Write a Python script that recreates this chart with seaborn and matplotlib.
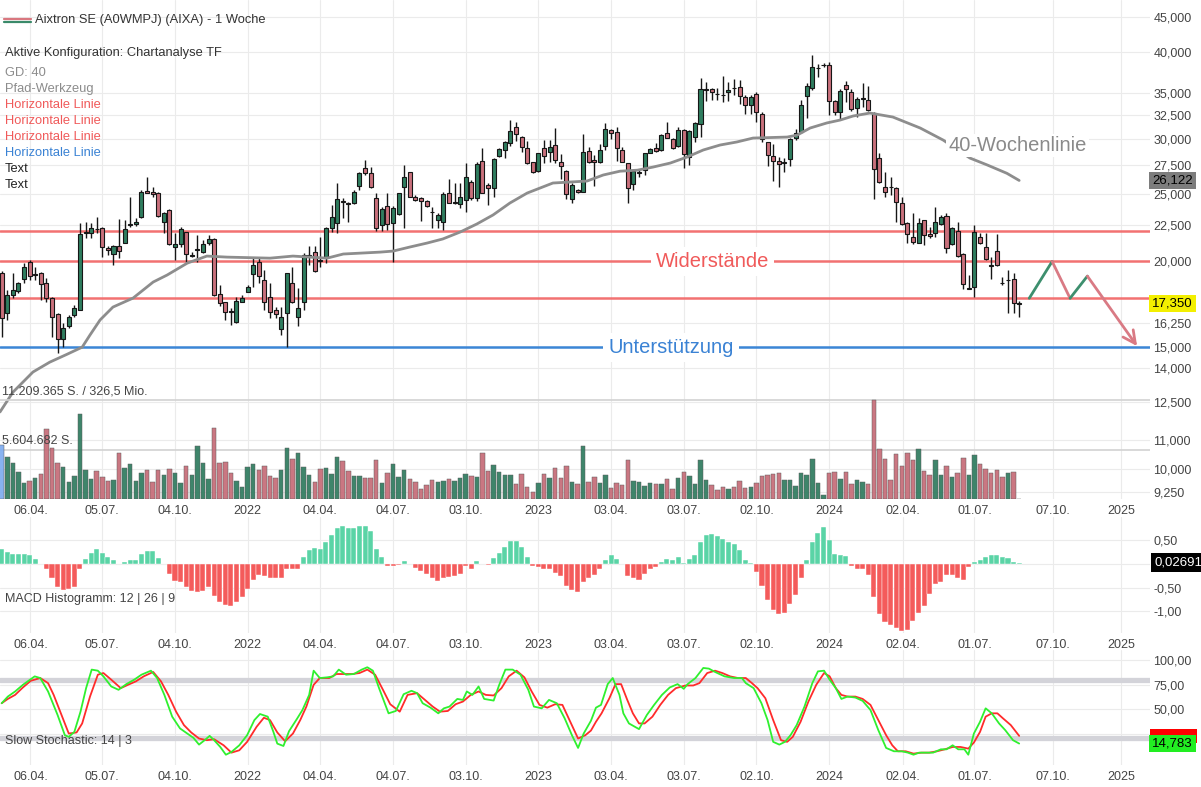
import numpy as np
import pandas as pd
import matplotlib
matplotlib.use("Agg")
import matplotlib.pyplot as plt
import matplotlib.transforms as mtransforms
from matplotlib.lines import Line2D
from matplotlib.patches import Rectangle
from matplotlib.ticker import NullLocator
import seaborn as sns

sns.set_style("white")
plt.rcParams["font.family"] = ["Liberation Sans", "DejaVu Sans"]

# ---------------- data ----------------
start_week = "2021-03-01"   # first weekly candle (Monday)

open_ = [19.18,16.80,17.84,18.08,18.82,19.91,19.10,19.18,18.57,17.66,
         16.75,15.41,16.09,16.69,16.97,21.95,21.93,22.25,22.30,20.86,
         20.45,21.00,21.21,22.55,22.60,23.13,25.22,25.14,25.05,22.75,
         23.68,20.93,21.14,22.00,20.31,20.72,20.58,21.21,21.50,17.90,
         17.43,16.90,16.31,17.43,18.02,19.13,19.91,18.75,17.72,16.97,
         15.93,16.80,18.57,16.58,17.43,20.31,20.58,20.04,20.26,22.27,
         22.70,24.36,24.20,24.21,25.66,27.19,26.80,24.61,22.52,24.01,
         22.70,23.34,25.53,26.89,24.75,24.61,24.42,23.50,22.90,22.77,
         25.07,24.21,24.15,24.48,26.01,24.61,27.87,25.70,25.44,28.33,
         28.91,29.56,31.17,30.15,29.10,27.77,26.94,29.10,28.72,29.39,
         27.77,26.94,24.56,25.30,25.14,28.81,27.96,27.77,29.29,30.89,
         30.68,28.91,27.68,25.81,26.75,27.03,28.62,29.10,28.91,30.58,
         29.98,29.29,30.89,28.24,30.18,31.52,35.30,35.42,34.83,34.71,
         35.07,35.53,35.65,34.48,33.58,34.83,32.58,29.69,28.33,27.87,
         27.68,28.05,30.08,30.68,34.59,35.53,37.97,38.36,38.36,34.03,
         32.80,35.89,35.07,33.24,34.30,34.14,32.69,28.14,25.55,25.60,
         25.47,24.23,22.67,21.64,21.21,22.90,21.86,21.93,22.60,23.21,
         21.14,22.08,20.45,18.20,18.32,21.64,20.93,19.71,20.65,18.57,
         18.75,18.82,17.32]
high = [19.32,18.14,19.18,18.63,19.84,20.04,19.58,19.26,18.88,17.72,
        16.80,16.26,16.69,17.26,22.67,22.75,22.67,23.13,22.37,21.00,
        21.07,22.98,22.90,24.72,23.05,25.30,26.42,25.55,25.14,23.52,
        23.75,21.93,22.37,22.00,20.58,21.79,21.43,21.79,21.55,18.45,
        17.43,17.08,17.72,17.84,18.45,20.24,20.24,19.40,18.57,17.14,
        17.14,19.18,19.58,18.26,20.52,21.00,21.02,21.66,22.40,24.07,
        25.92,24.62,24.34,25.30,26.89,27.96,27.28,25.07,23.93,25.07,
        23.99,25.07,27.49,26.89,24.89,24.75,24.48,23.93,23.42,25.16,
        26.22,25.86,25.86,27.65,26.16,27.80,29.07,25.92,28.12,29.07,
        29.79,31.94,31.70,30.28,29.79,27.77,28.62,29.88,29.88,31.10,
        28.52,27.03,25.90,25.38,30.48,29.19,28.43,29.49,31.63,30.99,
        31.20,29.19,27.68,27.03,27.03,28.62,29.10,29.59,30.48,31.73,
        30.08,31.20,30.99,30.89,31.73,36.73,36.25,35.53,35.53,36.97,
        36.25,36.61,36.49,34.71,34.71,35.07,32.80,29.69,29.49,28.24,
        28.14,30.08,30.99,34.14,36.13,39.65,38.49,38.62,38.75,34.14,
        35.42,36.37,35.42,34.48,36.13,35.77,32.80,28.62,26.85,26.42,
        25.55,24.72,22.75,23.44,23.05,22.90,22.37,23.91,23.29,23.44,
        22.37,22.75,20.52,19.07,22.52,21.93,21.93,20.24,21.86,18.94,
        19.40,19.18,17.49]
low = [15.51,16.42,17.66,17.96,18.57,18.75,18.75,17.55,17.43,15.51,
       14.71,15.00,15.99,16.58,16.97,21.57,21.57,21.93,20.24,20.38,
       19.71,20.17,21.21,22.37,22.45,23.05,25.05,24.72,23.13,21.93,
       21.07,20.04,20.93,19.91,20.24,19.91,20.52,21.07,17.80,17.20,
       16.42,16.15,16.26,17.43,18.02,18.32,18.57,16.97,16.53,16.53,
       15.62,15.00,17.37,16.09,16.97,19.71,19.28,19.60,19.82,22.02,
       21.95,23.03,22.77,24.15,25.30,26.60,25.44,22.10,22.10,22.15,
       19.89,23.29,22.27,24.70,24.42,22.85,23.93,22.32,22.27,22.15,
       24.21,24.15,23.81,23.48,24.48,24.42,25.03,24.07,24.75,28.21,
       28.12,29.29,29.81,28.72,27.58,26.75,26.85,27.68,27.77,27.68,
       26.25,24.56,24.23,25.05,25.14,27.68,25.64,27.68,28.91,29.98,
       27.87,27.77,24.23,25.30,26.42,26.60,28.62,28.72,28.81,30.08,
       29.00,29.19,27.22,27.49,29.69,30.18,34.01,34.14,34.14,33.92,
       34.01,34.71,33.69,32.58,32.58,31.73,29.69,27.40,26.07,25.55,
       26.85,27.40,29.88,30.58,32.15,35.30,36.85,38.10,32.48,32.48,
       31.94,33.92,32.91,32.26,33.35,32.91,24.56,25.90,24.72,24.89,
       22.75,22.52,21.21,21.14,21.21,21.07,21.57,21.64,22.52,20.52,
       21.07,20.24,18.20,18.20,17.72,21.14,20.04,18.82,19.64,18.45,
       16.80,16.80,16.58]
close = [16.53,17.84,18.14,18.57,19.58,19.00,19.13,18.51,17.66,16.58,
         15.41,15.99,16.58,17.08,21.86,22.00,22.30,22.22,20.93,20.72,
         21.00,20.65,22.22,22.60,22.75,25.14,25.05,24.97,23.21,23.44,
         21.14,21.14,22.22,20.45,20.38,20.79,21.14,21.50,17.84,17.37,
         16.86,16.86,17.49,17.66,18.32,19.71,19.00,17.43,16.86,16.75,
         16.58,19.18,17.43,17.08,20.38,20.38,19.34,20.00,22.27,23.15,
         24.53,24.30,24.15,25.16,26.75,26.80,25.53,22.27,23.73,22.60,
         23.86,25.03,26.45,24.75,24.48,24.40,23.99,23.49,23.29,24.94,
         24.21,24.34,24.70,26.45,24.61,27.56,25.03,25.44,28.02,28.97,
         29.72,30.82,30.48,29.22,27.68,26.85,28.62,28.33,29.19,27.96,
         27.40,24.97,25.72,25.14,28.72,27.77,27.77,28.91,30.99,30.58,
         29.10,27.77,25.47,26.94,26.85,28.62,29.00,28.81,30.38,30.08,
         29.10,30.89,28.52,30.79,31.63,35.42,35.42,35.07,34.78,34.66,
         35.30,35.50,34.59,33.58,34.48,32.80,29.98,28.43,27.87,27.59,
         27.77,29.98,30.58,33.57,35.77,38.10,38.00,38.40,34.03,32.80,
         35.18,35.42,33.13,34.25,34.37,33.02,27.13,25.98,25.14,25.55,
         24.31,22.60,21.86,21.29,22.67,21.79,21.71,22.75,23.13,20.86,
         22.30,20.31,18.51,18.26,22.00,21.21,20.11,19.68,19.71,18.55,
         18.78,17.37,17.35]
# weekly volume in million shares
volume_m = [6.15,4.72,4.11,3.06,1.85,2.08,2.42,2.87,7.89,5.77,
            4.04,3.66,1.96,2.57,9.66,3.28,2.30,3.21,2.45,2.00,
            2.15,5.21,3.47,4.00,2.00,2.91,3.28,1.92,3.25,2.76,
            3.43,2.98,1.85,3.74,2.76,6.04,4.11,2.26,8.04,4.08,
            4.23,2.94,2.08,1.40,3.62,4.00,3.25,3.70,2.64,2.42,
            3.25,5.77,4.57,5.25,3.59,2.68,1.92,3.43,3.47,2.79,
            4.72,4.34,3.21,2.60,2.64,2.42,2.42,4.42,1.85,2.98,
            4.00,2.49,3.25,2.30,1.96,1.17,1.62,2.15,1.89,2.00,
            2.30,2.08,2.42,2.83,2.64,2.49,5.21,3.21,3.81,3.02,
            2.76,2.68,1.74,2.83,1.40,0.83,1.81,2.87,2.38,3.47,
            2.38,3.77,1.96,1.74,6.04,1.92,2.53,1.85,2.76,1.21,
            1.85,1.62,4.42,2.04,1.96,1.51,1.81,1.74,1.74,2.26,
            1.13,2.42,3.06,2.57,1.70,4.45,2.11,1.62,1.02,1.36,
            1.17,1.36,2.00,1.28,1.32,1.81,2.64,2.76,2.87,2.94,
            2.15,2.15,1.43,2.91,2.76,4.57,1.85,0.49,2.94,3.06,
            2.30,3.09,1.70,2.15,1.96,1.74,11.209365,5.66,4.53,2.15,
            5.13,3.77,5.25,4.42,5.70,3.21,2.76,4.42,2.72,3.70,
            2.53,2.94,4.64,2.76,5.02,4.00,3.43,2.98,3.25,2.53,
            2.91,3.06,0.0]
macd_hist = [0.31,0.26,0.22,0.20,0.22,0.19,0.11,0.01,-0.11,-0.29,
             -0.49,-0.54,-0.52,-0.48,-0.11,0.10,0.24,0.31,0.24,0.15,
             0.08,0.005,0.04,0.08,0.08,0.22,0.27,0.27,0.12,0.01,
             -0.22,-0.36,-0.38,-0.48,-0.57,-0.60,-0.57,-0.48,-0.68,-0.80,
             -0.87,-0.88,-0.79,-0.70,-0.53,-0.33,-0.23,-0.26,-0.29,-0.30,
             -0.30,-0.10,-0.10,-0.10,0.14,0.29,0.33,0.31,0.46,0.60,
             0.76,0.79,0.76,0.76,0.81,0.79,0.69,0.31,0.15,-0.05,
             -0.04,-0.03,0.06,0.01,-0.08,-0.15,-0.21,-0.30,-0.35,-0.29,
             -0.28,-0.26,-0.22,-0.04,-0.11,0.06,0.005,-0.03,0.12,0.24,
             0.35,0.49,0.49,0.35,0.15,-0.05,-0.06,-0.11,-0.11,-0.18,
             -0.26,-0.47,-0.54,-0.60,-0.38,-0.30,-0.23,-0.10,0.09,0.18,
             0.11,0.0,-0.26,-0.30,-0.33,-0.21,-0.11,-0.07,0.04,0.11,
             0.08,0.15,0.03,0.10,0.18,0.47,0.60,0.63,0.58,0.52,
             0.47,0.42,0.29,0.09,0.03,-0.16,-0.46,-0.76,-0.96,-1.05,
             -1.03,-0.84,-0.66,-0.29,0.08,0.46,0.66,0.78,0.51,0.22,
             0.19,0.17,-0.04,-0.10,-0.11,-0.23,-0.69,-1.05,-1.23,-1.28,
             -1.34,-1.41,-1.39,-1.21,-1.04,-0.88,-0.63,-0.43,-0.38,-0.23,
             -0.23,-0.30,-0.33,-0.06,0.04,0.09,0.15,0.18,0.18,0.15,
             0.12,0.04,0.02691]
# 40-week moving average: (week index, value)
ma40 = [(-0.3,12.09),(2.0,12.91),(5.6,13.81),(8.6,14.27),(11.7,14.65),(14.4,15.00),
        (15.8,15.62),(17.6,16.42),(19.9,17.14),(23.5,17.66),(27.1,18.63),(29.6,19.07),
        (33.2,19.84),(36.7,20.31),(40.3,20.24),(48.0,20.17),(52.1,20.31),(58.2,20.17),
        (61.1,20.45),(67.7,20.58),(70.0,20.65),(73.0,20.93),(76.1,21.21),(78.9,21.50),
        (82.0,22.00),(85.0,22.60),(87.9,23.29),(90.9,24.23),(94.0,25.05),(98.6,25.90),
        (104.7,26.07),(107.6,26.60),(110.6,26.94),(113.7,27.03),(116.5,27.31),(119.6,27.68),
        (122.6,28.24),(125.5,28.91),(128.5,29.39),(131.5,29.69),(134.4,30.08),(140.5,30.18),
        (142.3,30.38),(144.6,31.10),(147.6,31.63),(150.0,31.94),(152.3,32.37),(155.3,32.69),
        (159.4,32.26),(164.3,31.10),(168.4,29.88),(173.2,28.14),(176.3,27.50),(179.8,26.75),
        (182.0,26.122)]
# slow stochastic 14|3: (week index, value)
stoch_k = [(0.0,55.9),(1.1,62.7),(2.4,67.9),(3.8,74.7),(5.9,83.3),(6.9,81.6),(8.3,67.9),(10.0,43.9),
           (11.3,23.3),(12.0,21.6),(13.0,26.7),(14.1,47.3),(15.1,71.3),(16.1,90.2),(17.2,89.1),(18.2,83.3),
           (19.6,73.0),(20.9,69.6),(22.3,75.4),(23.7,79.9),(25.0,85.0),(26.7,89.1),(27.8,81.6),(29.1,64.4),
           (30.5,42.2),(31.9,30.2),(33.2,25.0),(34.3,20.6),(35.3,13.7),(36.3,18.2),(37.2,22.6),(38.0,18.2),
           (39.1,11.3),(40.1,3.4),(41.1,6.2),(42.5,13.0),(43.9,23.3),(45.2,38.7),(46.2,44.9),(47.6,42.2),
           (48.6,26.7),(49.3,14.7),(50.4,12.3),(51.4,27.4),(52.8,39.8),(53.8,49.0),(55.0,64.4),(55.8,89.1),
           (56.9,81.6),(58.2,82.3),(59.3,83.3),(60.3,90.2),(61.6,85.0),(63.0,85.7),(64.4,90.2),(65.4,92.6),
           (66.4,89.1),(67.5,71.3),(69.2,45.6),(70.5,48.0),(71.9,65.1),(73.3,68.6),(74.3,66.2),(75.3,55.9),
           (76.7,51.4),(78.1,45.6),(79.1,50.7),(80.1,52.5),(81.5,60.3),(82.5,59.3),(83.2,67.9),(84.2,64.4),
           (85.3,73.0),(86.3,60.3),(88.0,58.6),(89.0,74.7),(90.1,90.2),(91.4,90.2),(92.8,85.0),(94.2,69.6),
           (95.2,52.5),(96.6,50.7),(97.9,59.3),(99.3,55.9),(100.7,40.5),(102.0,23.3),(103.1,10.3),(104.1,25.0),
           (105.4,38.0),(106.3,51.4),(107.2,54.2),(108.4,75.4),(109.3,81.6),(110.5,64.4),(111.2,45.6),(112.2,35.3),
           (114.0,29.5),(115.4,43.9),(116.7,54.2),(118.1,64.4),(119.5,72.0),(120.9,75.4),(122.0,70.6),(122.7,75.4),
           (124.1,81.6),(125.5,91.9),(126.5,91.2),(127.6,87.8),(129.3,83.3),(131.0,81.6),(132.4,81.6),(133.1,76.4),
           (134.5,71.3),(135.9,55.9),(137.0,38.7),(138.0,16.5),(139.1,13.7),(140.1,16.5),(141.1,23.3),(142.2,33.6),
           (143.6,52.5),(145.0,76.4),(146.0,88.4),(147.1,89.1),(148.1,79.9),(149.2,71.3),(150.2,60.3),(151.3,62.7),
           (152.7,61.7),(154.0,58.3),(155.4,49.0),(156.8,28.5),(158.2,10.3),(159.6,6.9),(161.0,6.9),(162.1,5.5),
           (163.1,3.4),(164.1,5.5),(165.2,5.5),(166.6,5.5),(168.0,8.9),(169.0,8.9),(170.1,13.0),(171.1,8.9),
           (172.2,8.9),(172.9,3.4),(173.9,25.0),(175.0,37.0),(176.0,50.7),(177.1,45.6),(178.4,35.3),(179.5,28.5),
           (180.9,18.2),(182.0,14.783)]
stoch_d = [(0.0,55.9),(1.1,60.3),(2.4,64.4),(3.8,72.0),(5.2,78.8),(6.9,81.6),(8.3,76.4),(9.3,64.4),
           (10.7,43.9),(12.0,25.0),(13.4,26.1),(14.4,35.3),(15.8,62.7),(17.2,85.0),(18.2,86.7),(19.6,79.9),
           (21.3,71.3),(22.6,74.7),(24.0,78.2),(25.4,83.3),(27.1,87.8),(28.5,78.2),(29.8,64.4),(31.2,47.3),
           (32.6,33.6),(33.9,26.1),(35.3,19.9),(36.7,18.2),(38.0,19.2),(39.7,13.0),(41.1,5.5),(42.5,7.9),
           (43.9,16.5),(45.6,31.9),(46.9,41.1),(48.0,38.7),(49.3,26.1),(50.7,17.1),(52.1,25.0),(53.4,38.7),
           (54.5,52.5),(55.8,74.7),(56.9,81.6),(58.6,81.6),(59.9,85.7),(61.3,85.7),(62.7,85.7),(64.0,86.7),
           (65.4,90.2),(66.8,85.0),(68.2,69.6),(69.5,54.9),(71.2,47.3),(72.6,64.4),(74.3,66.2),(75.7,59.3),
           (77.1,52.5),(78.4,47.3),(79.8,48.0),(81.2,54.9),(82.5,57.6),(83.9,64.4),(85.3,67.9),(86.6,64.4),
           (88.0,63.8),(89.4,71.3),(90.7,83.3),(92.1,89.1),(93.5,82.3),(94.8,67.9),(96.2,54.2),(97.6,51.4),
           (99.0,54.9),(100.3,54.2),(101.7,37.0),(103.1,19.9),(104.4,23.3),(105.4,28.0),(106.3,37.0),(107.3,45.6),
           (108.7,61.0),(109.8,75.4),(110.8,75.4),(111.9,59.3),(112.9,45.6),(114.0,35.3),(115.0,35.3),(116.4,42.2),
           (117.8,54.2),(119.2,64.4),(120.6,71.3),(122.3,74.0),(123.7,74.0),(124.8,76.4),(126.2,86.7),(127.6,89.1),
           (128.9,86.7),(130.3,83.3),(131.7,81.6),(133.1,81.6),(134.2,76.4),(135.2,71.3),(136.6,61.0),(138.0,38.7),
           (139.4,18.2),(140.5,16.5),(141.5,21.6),(142.9,37.0),(144.3,57.6),(145.7,74.7),(147.1,86.7),(148.1,83.3),
           (149.2,71.3),(150.2,64.4),(151.3,62.7),(152.7,62.7),(154.0,60.3),(155.4,54.2),(156.8,38.7),(158.2,23.3),
           (159.3,13.0),(160.3,6.9),(161.7,6.9),(163.1,4.5),(164.5,5.5),(165.9,5.5),(167.3,6.9),(168.7,8.9),
           (170.1,11.3),(171.5,11.3),(172.9,9.6),(173.9,15.8),(175.0,26.7),(176.0,42.2),(177.1,45.6),(178.1,45.6),
           (179.1,40.5),(180.5,33.6),(182.0,22.6)]
resistance_levels = [22.10, 19.95, 17.65]
support_level = 15.00
path_week = [183.8, 187.9, 191.1, 194.2, 203.1]
path_price = [17.65, 19.95, 17.65, 19.00, 15.05]
price_ticks = [45, 40, 35, 32.5, 30, 27.5, 25, 22.5, 20, 16.25, 15, 14, 12.5, 11, 10, 9.25]
macd_ticks = [0.5, -0.5, -1.0]
stoch_ticks = [100, 75, 50]
tick_dates = ["2021-04-06", "2021-07-05", "2021-10-04", "2022-01-03", "2022-04-04", "2022-07-04",
              "2022-10-03", "2023-01-02", "2023-04-03", "2023-07-03", "2023-10-02", "2024-01-01",
              "2024-04-02", "2024-07-01", "2024-10-07", "2025-01-01"]
tick_labels = ["06.04.", "05.07.", "04.10.", "2022", "04.04.", "04.07.", "03.10.", "2023",
               "03.04.", "03.07.", "02.10.", "2024", "02.04.", "01.07.", "07.10.", "2025"]
legend_items = [("GD: 40", "#8c8c8c"), ("Pfad-Werkzeug", "#8c8c8c"),
                ("Horizontale Linie", "#f05a5a"), ("Horizontale Linie", "#f05a5a"),
                ("Horizontale Linie", "#f05a5a"), ("Horizontale Linie", "#3a82d4"),
                ("Text", "#222222"), ("Text", "#222222")]

# ---------------- helpers ----------------
def de(v, nd):
    return f"{v:.{nd}f}".replace(".", ",")

GREEN = "#2f7d5f"
RED = "#c9707c"
TXT = "#444444"
GRID = "#ebebeb"

o = np.array(open_); h = np.array(high); l = np.array(low); c = np.array(close)
vol = np.array(volume_m); mh = np.array(macd_hist)
n = len(c)
x = np.arange(n)
start = pd.Timestamp(start_week)
tick_pos = [(pd.Timestamp(d) - start).days / 7.0 for d in tick_dates]

W, H = 1201, 787
RIGHT = 1150
fig = plt.figure(figsize=(W / 100, H / 100), dpi=100)

def rect(top, bottom):
    return [0, 1 - bottom / H, RIGHT / W, (bottom - top) / H]

ax = fig.add_axes(rect(0, 499))
ax_vol = fig.add_axes(rect(0, 499), sharex=ax)
ax_macd = fig.add_axes(rect(517, 633), sharex=ax)
ax_st = fig.add_axes(rect(650, 765), sharex=ax)

for a in (ax, ax_macd, ax_st):
    for s in a.spines.values():
        s.set_visible(False)
    a.set_xticks(tick_pos)
    a.set_xticklabels(tick_labels)
    a.tick_params(axis="x", length=0, pad=4, labelsize=9, colors=TXT)
    a.tick_params(axis="y", length=0, pad=2.5, labelsize=9, colors=TXT)
    a.yaxis.tick_right()
    a.grid(True, axis="x", color=GRID, lw=0.8)
    a.set_axisbelow(True)
ax.set_xlim(-0.3, 205.4)

# ---------------- price panel ----------------
ax.set_yscale("log")
ax.set_ylim(9.05, 47.62)
ax.set_yticks(price_ticks)
ax.set_yticklabels([de(v, 3) for v in price_ticks])
ax.yaxis.set_minor_locator(NullLocator())
ax.grid(True, axis="y", color=GRID, lw=0.8)

for lv in resistance_levels:
    ax.axhline(lv, color="#f26a6a", lw=1.8, alpha=0.95, zorder=2)
ax.axhline(support_level, color="#3b86d6", lw=1.8, zorder=2)

up = c >= o
body_lo = np.minimum(o, c)
body_h = np.maximum(np.abs(c - o), 0.025)
ax.vlines(x, l, h, color="#161616", lw=1.0, zorder=3)
ax.bar(x, body_h, bottom=body_lo, width=0.72, color=np.where(up, GREEN, RED),
       edgecolor="#161616", linewidth=0.8, zorder=4)

ma_w = [p[0] for p in ma40]; ma_v = [p[1] for p in ma40]
sns.lineplot(x=ma_w, y=ma_v, ax=ax, color="#8d8d8d", linewidth=2.0, sort=False,
             estimator=None, legend=False, zorder=5)

path_cols = ["#3d8f6e", "#d97a84", "#3d8f6e", "#d97a84"]
for k in range(len(path_week) - 1):
    if k < len(path_week) - 2:
        ax.plot(path_week[k:k + 2], path_price[k:k + 2], color=path_cols[k], lw=2.0,
                zorder=6, solid_capstyle="round")
    else:
        ax.annotate("", xy=(path_week[k + 1], path_price[k + 1]),
                    xytext=(path_week[k], path_price[k]),
                    arrowprops=dict(arrowstyle="->,head_length=0.9,head_width=0.45",
                                    color=path_cols[k], lw=2.0, shrinkA=0, shrinkB=0),
                    zorder=6)

wbox = dict(boxstyle="square,pad=0.25", fc="white", ec="none")
ax.text(127.1, resistance_levels[1], "Widerstände", color="#f05a5a", fontsize=14.5,
        ha="center", va="center", bbox=wbox, zorder=7)
ax.text(119.7, support_level, "Unterstützung", color="#3a82d4", fontsize=14.5,
        ha="center", va="center", bbox=wbox, zorder=7)
ax.text(169.3, 29.3, "40-Wochenlinie", color="#8a8a8a", fontsize=14.5,
        ha="left", va="center", bbox=dict(boxstyle="square,pad=0.1", fc="white", ec="none"),
        zorder=7)

tr = mtransforms.blended_transform_factory(ax.transAxes, ax.transData)
ax.text(1.002, ma_v[-1], de(ma_v[-1], 3), transform=tr, ha="left", va="center",
        fontsize=9.5, color="black", clip_on=False, zorder=10,
        bbox=dict(boxstyle="square,pad=0.22", fc="#7d7d7d", ec="none"))
ax.text(1.002, c[-1], de(c[-1], 3), transform=tr, ha="left", va="center",
        fontsize=9.5, color="black", clip_on=False, zorder=10,
        bbox=dict(boxstyle="square,pad=0.22", fc="#f3ef00", ec="none"))

# ---------------- volume (overlay) ----------------
ax_vol.set_axis_off()
ax_vol.set_ylim(0, 56.5)
vcols = np.where(up, "#347f63", "#c8707b").astype(object)
vcols[0] = "#82aef0"
ax_vol.bar(x, vol, width=0.8, color=vcols, edgecolor="#5a5a5a", linewidth=0.35, alpha=0.95, zorder=3)
vmax = vol.max()
ax_vol.axhline(vmax, color="#d2d2d2", lw=1.2, zorder=1)
ax_vol.axhline(vmax / 2, color="#d2d2d2", lw=1.2, zorder=1)
trv = mtransforms.blended_transform_factory(ax_vol.transAxes, ax_vol.transData)
ax_vol.text(0.002, vmax + 0.25, f"{round(vmax * 1e6):,}".replace(",", ".") + " S. / 326,5 Mio.",
            transform=trv, fontsize=9, color=TXT, va="bottom", ha="left")
ax_vol.text(0.002, vmax / 2 + 0.25, f"{round(vmax / 2 * 1e6):,}".replace(",", ".") + " S.",
            transform=trv, fontsize=9, color=TXT, va="bottom", ha="left")

# ---------------- MACD histogram ----------------
ax_macd.set_ylim(-1.453, 0.989)
for gv in [0.5, 0.0, -0.5, -1.0]:
    ax_macd.axhline(gv, color=GRID, lw=0.8, zorder=0)
ax_macd.bar(x, mh, width=0.9, color=np.where(mh >= 0, "#5ad4a6", "#f45b5b"),
            edgecolor="white", linewidth=0.3, zorder=3)
ax_macd.set_yticks(macd_ticks)
ax_macd.set_yticklabels([de(v, 2) for v in macd_ticks])
trm = mtransforms.blended_transform_factory(ax_macd.transAxes, ax_macd.transData)
ax_macd.text(1.004, mh[-1], de(mh[-1], 5), transform=trm, ha="left", va="center",
             fontsize=9.5, color="white", clip_on=False, zorder=10,
             bbox=dict(boxstyle="square,pad=0.25", fc="black", ec="none"))
ax_macd.text(0.004, 0.29, "MACD Histogramm: 12 | 26 | 9", transform=ax_macd.transAxes,
             fontsize=9, color=TXT, ha="left", va="center")

# ---------------- Slow stochastic ----------------
ax_st.set_ylim(-7.1, 110.2)
for gv in [100, 75, 50, 25]:
    ax_st.axhline(gv, color=GRID, lw=0.8, zorder=0)
ax_st.axhline(80, color="#d3d3d9", lw=3.8, zorder=1)
ax_st.axhline(20, color="#d3d3d9", lw=3.8, zorder=1)
sns.lineplot(x=[p[0] for p in stoch_d], y=[p[1] for p in stoch_d], ax=ax_st, color="#ff2b2b",
             linewidth=1.3, sort=False, estimator=None, legend=False, zorder=3)
sns.lineplot(x=[p[0] for p in stoch_k], y=[p[1] for p in stoch_k], ax=ax_st, color="#2ff02f",
             linewidth=1.3, sort=False, estimator=None, legend=False, zorder=4)
ax_st.set_yticks(stoch_ticks)
ax_st.set_yticklabels([de(v, 2) for v in stoch_ticks])
ax_st.set_xlim(-0.3, 205.4)
trs = mtransforms.blended_transform_factory(ax_st.transAxes, ax_st.transData)
d_last = stoch_d[-1][1]
ax_st.add_patch(Rectangle((1.0, d_last - 7.0), 0.041, 14.0, transform=trs,
                          facecolor="#ff0000", edgecolor="none", clip_on=False, zorder=9))
ax_st.text(1.002, stoch_k[-1][1], de(stoch_k[-1][1], 3), transform=trs, ha="left", va="center",
           fontsize=9.5, color="black", clip_on=False, zorder=11,
           bbox=dict(boxstyle="square,pad=0.22", fc="#22ee22", ec="none"))
ax_st.text(0.004, 17, "Slow Stochastic: 14 | 3", transform=trs, fontsize=9, color=TXT,
           ha="left", va="center", zorder=6)

# ---------------- header / legend ----------------
def ftext(xp, yp, s, **kw):
    fig.text(xp / W, 1 - yp / H, s, ha="left", va="center", **kw)

fig.add_artist(Line2D([4 / W, 31 / W], [1 - 18.5 / H] * 2, color="#d9777f", lw=1.6))
fig.add_artist(Line2D([4 / W, 31 / W], [1 - 22 / H] * 2, color="#3a8a6a", lw=1.6))
ftext(35, 20, "Aixtron SE (A0WMPJ) (AIXA) - 1 Woche", fontsize=9.3, color="#333333")
ftext(5, 53, "Aktive Konfiguration: Chartanalyse TF", fontsize=9.3, color="#333333")
for k, (s, col) in enumerate(legend_items):
    ftext(5, 73 + 16 * k, s, fontsize=9.3, color=col)

fig.savefig("out.png", dpi=100)
